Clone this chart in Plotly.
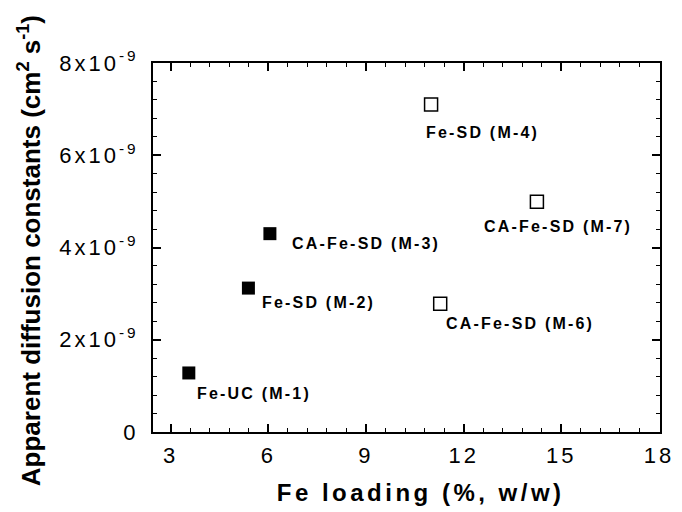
import plotly.graph_objects as go

# Fe loading (% w/w) and apparent diffusion constants (cm^2 s^-1)
solid_labels = ["Fe-UC (M-1)", "Fe-SD (M-2)", "CA-Fe-SD (M-3)"]
solid_x = [3.56, 5.39, 6.05]
solid_y = [1.28e-9, 3.12e-9, 4.30e-9]

open_labels = ["Fe-SD (M-4)", "CA-Fe-SD (M-7)", "CA-Fe-SD (M-6)"]
open_x = [11.0, 14.25, 11.28]
open_y = [7.10e-9, 4.99e-9, 2.78e-9]

x_ticks = [3, 6, 9, 12, 15, 18]
y_ticks = [0, 2e-9, 4e-9, 6e-9, 8e-9]
y_ticktext = ["0", "2x10<sup>-9</sup>", "4x10<sup>-9</sup>",
              "6x10<sup>-9</sup>", "8x10<sup>-9</sup>"]

# pixel offsets of each label from its marker
solid_offsets = [(6, -21), (12, -14), (20, -10)]
open_offsets = [(-7, -28), (-55, -25), (4, -20)]

FONT = "Arial, Liberation Sans, sans-serif"
L, R, T, B = 153, 22, 63, 80
W, H = 682, 512
PW, PH = W - L - R, H - T - B

fig = go.Figure()
fig.add_trace(go.Scatter(
    x=solid_x, y=solid_y, mode="markers",
    marker=dict(symbol="square", size=13, color="black",
                line=dict(width=0)),
    showlegend=False, hoverinfo="skip"))
fig.add_trace(go.Scatter(
    x=open_x, y=open_y, mode="markers",
    marker=dict(symbol="square-open", size=13, color="black",
                line=dict(width=1.5)),
    showlegend=False, hoverinfo="skip"))

for labels, xs, ys, offs in ((solid_labels, solid_x, solid_y, solid_offsets),
                             (open_labels, open_x, open_y, open_offsets)):
    for lab, x, y, (dx, dy) in zip(labels, xs, ys, offs):
        fig.add_annotation(x=x, y=y, text=lab, showarrow=False,
                           xanchor="left", yanchor="middle", align="left",
                           xshift=dx, yshift=dy,
                           font=dict(family=FONT, size=16, color="black",
                                     weight="bold"))

# axis titles placed as paper-anchored text
fig.add_annotation(xref="paper", yref="paper",
                   x=(420 - L) / PW, y=-(493 - (H - B)) / PH,
                   text="Fe loading (%, w/w)", showarrow=False,
                   xanchor="center", yanchor="middle",
                   font=dict(family=FONT, size=24, color="black",
                             weight="bold"))
fig.add_annotation(xref="paper", yref="paper",
                   x=(29 - L) / PW, y=0.49, textangle=-90,
                   text="Apparent diffusion constants (cm<sup>2</sup> s<sup>-1</sup>)",
                   showarrow=False, xanchor="center", yanchor="middle",
                   font=dict(family=FONT, size=26, color="black",
                             weight="bold"))

axis_common = dict(showline=True, linecolor="black", linewidth=2,
                   mirror="ticks", ticks="inside", ticklen=8,
                   tickwidth=1.5, tickcolor="black", showgrid=False,
                   zeroline=False,
                   tickfont=dict(family=FONT, size=22, color="black"))

fig.update_xaxes(range=[2.46, 18.03], tickvals=x_ticks,
                 ticklabelstandoff=3,
                 minor=dict(dtick=0.6, tick0=0, ticks="inside", ticklen=4,
                            tickwidth=1, tickcolor="black"),
                 **axis_common)
fig.update_yaxes(range=[0, 8e-9], tickvals=y_ticks, ticktext=y_ticktext,
                 ticklabelstandoff=8,
                 minor=dict(dtick=0.4e-9, tick0=0, ticks="inside", ticklen=4,
                            tickwidth=1, tickcolor="black"),
                 **axis_common)

fig.update_layout(width=W, height=H,
                  margin=dict(l=L, r=R, t=T, b=B),
                  plot_bgcolor="white", paper_bgcolor="white")

# widen horizontal lettering with CSS letter spacing
css = (".annotation-text{letter-spacing:2.2px}"
       ".annotation[data-index=\"6\"] .annotation-text{letter-spacing:3.5px}"
       ".annotation[data-index=\"7\"] .annotation-text{letter-spacing:0px}"
       ".xtick text,.ytick text{letter-spacing:3px}")
post = ("var s=document.createElement('style');s.textContent='" +
        css.replace("'", "\\'") + "';document.head.appendChild(s);")

fig.write_html("out.html", post_script=post)
